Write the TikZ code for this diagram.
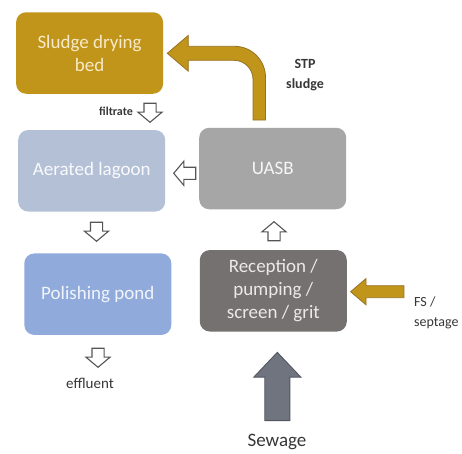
\documentclass[tikz,border=0pt]{standalone}
\usepackage{fontspec}
\setmainfont{Carlito}
\usetikzlibrary{shapes.arrows}

\definecolor{goldfill}{RGB}{193,148,26}
\definecolor{goldedge}{RGB}{150,115,35}
\definecolor{goldtext}{RGB}{247,234,200}
\definecolor{lagoonfill}{RGB}{180,192,214}
\definecolor{uasbfill}{RGB}{166,166,166}
\definecolor{pondfill}{RGB}{143,170,219}
\definecolor{recfill}{RGB}{118,113,113}
\definecolor{sewfill}{RGB}{112,116,126}
\definecolor{sewedge}{RGB}{82,86,96}
\definecolor{hollowedge}{RGB}{85,85,85}
\definecolor{labeltext}{RGB}{55,55,55}

\tikzset{
  stage/.style={rounded corners=10pt, minimum width=147pt, minimum height=81.5pt,
    align=center, font=\fontsize{19}{23}\selectfont, inner sep=2pt},
  hollow/.style={single arrow, draw=hollowedge, line width=1.1pt, fill=white,
    inner sep=5.5pt, minimum height=19pt, anchor=tip,
    single arrow head extend=6pt, single arrow tip angle=100},
  lbl/.style={text=labeltext, inner sep=0pt},
}

\begin{document}
\begin{tikzpicture}[x=1pt, y=-1pt]
\useasboundingbox[fill=white] (0,0) rectangle (462,453);

% treatment stages
\node[stage, fill=goldfill, text=goldtext]       (sdb)  at (89.6,53)   {Sludge drying\\bed};
\node[stage, fill=lagoonfill, text=white!92!lagoonfill] (lag)  at (91.7,170.8) {Aerated lagoon};
\node[stage, fill=uasbfill, text=white!90!uasbfill]     (uasb) at (272.7,168.5) {UASB};
\node[stage, fill=pondfill, text=white!88!pondfill]     (pond) at (97.8,294.2) {Polishing pond};
\node[stage, fill=recfill, text=white!85!recfill]       (rec)  at (273.3,290.8) {Reception /\\pumping /\\screen / grit};

% small hollow flow arrows (placed by their tips)
\node[hollow, shape border rotate=270] (afilt) at (150,123)   {};
\node[hollow, shape border rotate=180, minimum height=22pt] (aleft) at (173,173.3) {};
\node[hollow, shape border rotate=270] (adown) at (96.5,242)  {};
\node[hollow, shape border rotate=90]  (aup)   at (274,221)   {};
\node[hollow, shape border rotate=270] (aeff)  at (98,368)    {};

% labels
\node[lbl, font=\fontsize{12}{14}\selectfont\bfseries] (tfilt) at (116,111.7) {filtrate};
\node[lbl, font=\fontsize{15}{17}\selectfont] (teff) at (90,383) {effluent};
\node[lbl, font=\fontsize{14}{20}\selectfont\bfseries, align=center] (tstp) at (305,75) {STP\\sludge};
\node[lbl, font=\fontsize{14}{20}\selectfont, align=left, anchor=west] (tfs) at (414,313.3) {FS /\\septage};
\node[lbl, font=\fontsize{19}{23}\selectfont] (tsew) at (277,441.7) {Sewage};

% STP sludge: bent arrow from UASB back to the drying bed
\filldraw[fill=goldfill, draw=goldedge, line width=0.8pt, line join=miter]
  (253,120) -- (253,79.3) .. controls (253,68.8) and (244.5,60.3) .. (234,60.3)
  -- (188.3,60.3) -- (188.3,71.2) -- (167.3,53.3) -- (188.3,35.4) -- (188.3,46.3)
  -- (234.5,46.3) .. controls (251.6,46.3) and (265.5,60.2) .. (265.5,77.3)
  -- (265.5,120) -- cycle;

% faecal sludge / septage input
\node[single arrow, fill=goldfill, draw=goldedge, line width=0.8pt, shape border rotate=180,
  inner sep=5.6pt, minimum height=53.3pt, anchor=tip,
  single arrow head extend=7.2pt, single arrow tip angle=81] (afs) at (350,291.7) {};

% sewage input
\node[single arrow, fill=sewfill, draw=sewedge, line width=0.9pt, shape border rotate=90,
  inner sep=12.1pt, minimum height=68.3pt, anchor=tip,
  single arrow head extend=10.9pt, single arrow tip angle=87] (asew) at (277.3,351.7) {};
\end{tikzpicture}
\end{document}
